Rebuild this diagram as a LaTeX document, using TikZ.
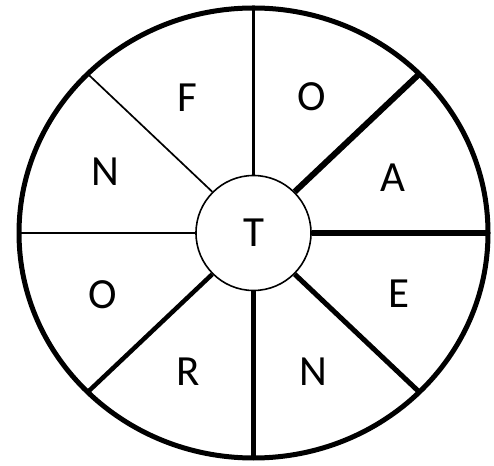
\documentclass[tikz,border=0pt]{standalone}
\usepackage{fontspec}
\setmainfont{Carlito}
\usetikzlibrary{calc}

\tikzset{
  rim/.style={line width=5pt},
  hub/.style={circle, draw, line width=1.6pt, fill=white,
    minimum size=115pt, inner sep=0pt, font=\fontsize{43}{43}\selectfont},
  letter/.style={font=\fontsize{43}{43}\selectfont, inner sep=0pt}
}

\begin{document}
\begin{tikzpicture}[x=1pt, y=1pt]
  \useasboundingbox (0,0) rectangle (494,465);

  % Wheel
  \coordinate (c) at (253.5,232);
  \foreach \a/\i in {90/1, 45/2, 0/3, 315/4, 270/5, 225/6, 180/7, 135/8} {
    \coordinate (rim\i) at ($(c)+(\a:234.5 and 225)$);
  }
  \node[hub] (hub) at (c) {T};

  % Spokes
  \foreach \a/\w/\i in {90/3.5/1, 45/6/2, 0/5.5/3, 315/5/4, 270/5/5, 225/4.5/6, 180/2.2/7, 135/1.7/8} {
    \draw[line width=\w pt] (hub.\a) -- (rim\i);
  }
  \draw[rim] (c) ellipse [x radius=234.5, y radius=225];

  % Letters
  \foreach \x/\y/\t/\n in {187/367/F/lf, 312/368/O/lo1, 393/287/A/la, 399/171/E/le,
                           313/93/N/ln1, 188/93/R/lr, 103/170/O/lo2, 105/293/N/ln2} {
    \node[letter] (\n) at (\x,\y) {\t};
  }
\end{tikzpicture}
\end{document}
